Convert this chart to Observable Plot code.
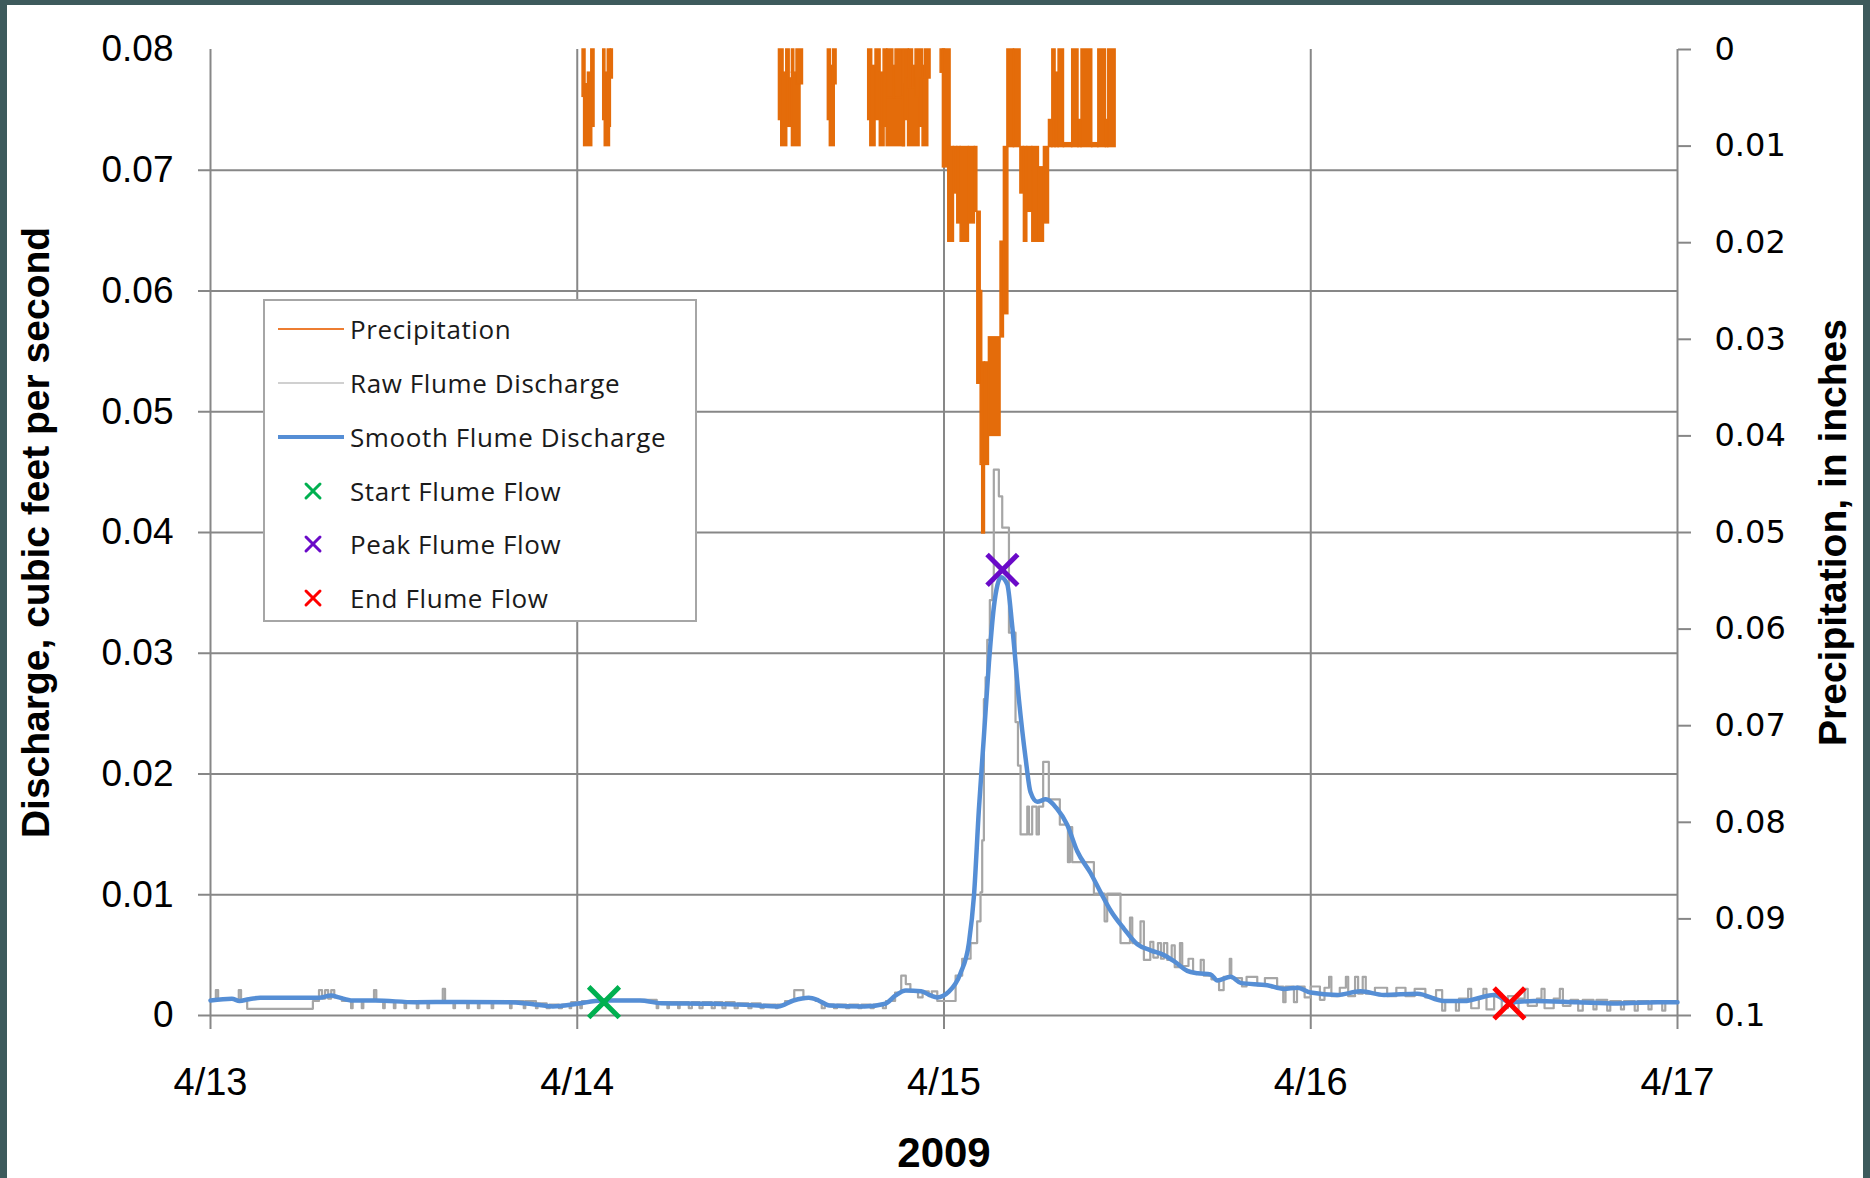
<!DOCTYPE html>
<html>
<head>
<meta charset="utf-8">
<script src="https://cdn.jsdelivr.net/npm/d3@7"></script>
<script src="https://cdn.jsdelivr.net/npm/@observablehq/plot@0.6"></script>
<style>
  html, body { margin: 0; padding: 0; background: #3d5a5c; }
  #wrap { position: relative; width: 1870px; height: 1178px; overflow: hidden; background: #3d5a5c; }
  #panel { position: absolute; left: 7px; top: 5px; width: 1856px; height: 1173px; background: #ffffff; }
  #chart { position: absolute; left: 0; top: 0; }
  #legend { position: absolute; left: 263px; top: 299px; width: 434px; height: 323px; box-sizing: border-box;
            border: 2px solid #a6a6a6; background: #ffffff; font-family: "Open Sans", "Liberation Sans", sans-serif;
            font-size: 26px; color: #1a1a1a; letter-spacing: 0.6px; }
  .row { position: absolute; left: 0; width: 430px; height: 40px; }
  .row svg { position: absolute; left: 13px; top: 0; }
  .row span { position: absolute; left: 85px; top: 0; line-height: 40px; white-space: nowrap; }
</style>
</head>
<body>
<div id="wrap">
  <div id="panel"></div>
  <div id="chart"></div>
  <div id="legend"></div>
</div>
<script>
// ---------------- DATA (hours after 4/13/2009 00:00) ----------------
const dayLabels = ["4/13", "4/14", "4/15", "4/16", "4/17"];
const dayHours = [0, 24, 48, 72, 96];
const flowTicks = [0, 0.01, 0.02, 0.03, 0.04, 0.05, 0.06, 0.07, 0.08];
const precipTicks = [0, 0.01, 0.02, 0.03, 0.04, 0.05, 0.06, 0.07, 0.08, 0.09, 0.1];

// precipitation blocks: [startHour, endHour, lowInches, highInches]
const precipBlocks = [
  [24.35, 24.54, 0, 0.0049], [24.45, 24.98, 0.0036, 0.0100], [24.70, 24.92, 0.0024, 0.0050], [24.92, 25.13, 0, 0.0080],
  [25.70, 25.84, 0, 0.0073], [25.80, 26.14, 0.0024, 0.0100], [26.00, 26.20, 0, 0.0080], [26.20, 26.33, 0, 0.0030],
  [37.20, 37.50, 0, 0.0073], [37.35, 37.74, 0.0024, 0.0100], [37.68, 37.90, 0, 0.0080], [37.90, 38.05, 0.0030, 0.0080],
  [38.05, 38.61, 0.0024, 0.0100], [38.05, 38.20, 0, 0.0024], [38.35, 38.77, 0, 0.0036],
  [40.40, 40.60, 0, 0.0073], [40.53, 40.85, 0.0017, 0.0100], [40.75, 40.97, 0, 0.0036],
  [43.04, 43.30, 0, 0.0073], [43.18, 43.52, 0.0017, 0.0100], [43.52, 43.85, 0, 0.0073], [43.80, 44.11, 0.0024, 0.0100],
  [44.05, 44.29, 0, 0.0080], [44.25, 45.44, 0.0036, 0.0100], [44.29, 44.68, 0, 0.0050], [44.68, 44.83, 0.0017, 0.0050],
  [44.83, 45.31, 0, 0.0050], [45.31, 45.44, 0.0049, 0.0100], [45.40, 45.70, 0, 0.0073], [45.65, 46.40, 0.0030, 0.0100],
  [45.70, 45.97, 0, 0.0040], [45.97, 46.14, 0.0017, 0.0040], [46.14, 46.62, 0, 0.0049], [46.40, 46.62, 0.0030, 0.0080],
  [46.60, 46.97, 0.0030, 0.0100], [46.62, 46.75, 0.0017, 0.0030], [46.75, 47.12, 0, 0.0030],
  [47.78, 48.06, 0, 0.0024], [47.93, 48.43, 0, 0.0122], [48.28, 48.65, 0.0101, 0.0199], [48.65, 48.87, 0.0101, 0.0149],
  [48.87, 49.09, 0.0101, 0.0180], [49.09, 49.63, 0.0101, 0.0199], [49.63, 50.02, 0.0101, 0.0180], [50.02, 50.18, 0.0101, 0.0168],
  [50.18, 50.40, 0.0168, 0.0346], [50.40, 50.50, 0.0250, 0.0430], [50.50, 50.68, 0.0324, 0.0501], [50.68, 50.94, 0.0324, 0.0430],
  [50.94, 51.70, 0.0298, 0.0400], [51.70, 51.92, 0.0199, 0.0298], [51.92, 52.21, 0.0101, 0.0274], [52.15, 52.58, 0, 0.0101],
  [52.58, 53.01, 0, 0.0101], [53.00, 53.23, 0.0101, 0.0149], [53.23, 53.45, 0.0101, 0.0199], [53.45, 53.78, 0.0101, 0.0168],
  [53.78, 54.21, 0.0101, 0.0199], [54.21, 54.54, 0.0122, 0.0199], [54.54, 54.87, 0.0101, 0.0180], [54.87, 55.09, 0.0073, 0.0101],
  [55.09, 55.30, 0, 0.0101], [55.30, 55.50, 0.0024, 0.0101], [55.50, 55.85, 0, 0.0101], [55.85, 56.39, 0.0097, 0.0101],
  [56.39, 56.80, 0, 0.0101], [56.80, 57.00, 0.0073, 0.0101], [57.00, 57.70, 0, 0.0101], [57.70, 58.10, 0.0097, 0.0101],
  [58.10, 58.60, 0, 0.0101], [58.60, 58.75, 0.0073, 0.0101], [58.75, 59.23, 0, 0.0101]
];

// raw flume discharge: [hour, cfs] (step series)
const rawFlow = [
  [0, 0.0012], [0.35, 0.0021], [0.5, 0.0013], [1.85, 0.0021], [2.0, 0.0013], [2.4, 0.00055], [6.7, 0.0012],
  [7.1, 0.0021], [7.3, 0.0014], [7.5, 0.0021], [7.7, 0.0014], [7.9, 0.0021], [8.1, 0.0015], [8.6, 0.0012],
  [9.2, 0.0006], [9.3, 0.0012], [9.9, 0.0006], [10.0, 0.0012], [10.7, 0.0021], [10.85, 0.0012], [11.3, 0.0006],
  [11.4, 0.0012], [12.0, 0.0006], [12.1, 0.0012], [12.7, 0.0006], [12.8, 0.0012], [13.5, 0.0006], [13.6, 0.0012],
  [14.2, 0.0006], [14.3, 0.0012], [15.2, 0.0022], [15.35, 0.0012], [15.9, 0.0006], [16.0, 0.0012], [16.8, 0.0006],
  [16.9, 0.0012], [17.5, 0.0006], [17.6, 0.0012], [18.4, 0.0006], [18.5, 0.0012], [19.6, 0.0006], [19.7, 0.0012],
  [20.5, 0.0006], [20.6, 0.0012], [21.3, 0.0006], [21.4, 0.0010], [22.0, 0.0006], [22.2, 0.0009], [22.8, 0.0006],
  [23.0, 0.0009], [23.5, 0.0006], [23.6, 0.0011], [24.2, 0.0006], [24.3, 0.0012], [26.0, 0.0013], [29.2, 0.0006],
  [29.3, 0.0011], [29.9, 0.0006], [30.0, 0.0011], [30.6, 0.0006], [30.7, 0.0011], [31.3, 0.0006], [31.5, 0.0011],
  [32.0, 0.0006], [32.2, 0.0011], [32.8, 0.0006], [33.0, 0.0011], [33.5, 0.0006], [33.7, 0.0011], [34.3, 0.0006],
  [34.5, 0.0010], [35.2, 0.0006], [35.4, 0.0010], [36.0, 0.0006], [36.2, 0.0009], [37.0, 0.0006], [37.1, 0.0009],
  [37.6, 0.0012], [38.2, 0.0021], [38.8, 0.0014], [39.6, 0.0012], [40.0, 0.0006], [40.2, 0.0009], [40.8, 0.0006],
  [41.0, 0.0009], [41.6, 0.0006], [41.8, 0.0009], [42.4, 0.0006], [42.6, 0.0009], [43.2, 0.0006], [43.4, 0.0009],
  [44.0, 0.0006], [44.2, 0.0012], [44.8, 0.0019], [45.2, 0.0033], [45.5, 0.0026], [45.8, 0.0020], [46.3, 0.0015],
  [46.6, 0.0020], [47.0, 0.0016], [47.2, 0.0020], [47.56, 0.0012], [48.76, 0.0033], [49.19, 0.0047], [49.74, 0.0060],
  [50.17, 0.0078], [50.39, 0.0102], [50.5, 0.0145], [50.61, 0.0262], [50.72, 0.0280], [50.83, 0.0311], [51.0, 0.0344],
  [51.16, 0.0360], [51.26, 0.0452], [51.59, 0.0430], [51.81, 0.0404], [52.25, 0.0317], [52.68, 0.0243], [52.84, 0.0207],
  [53.01, 0.0150], [53.45, 0.0173], [53.56, 0.0150], [53.77, 0.0173], [54.06, 0.0150], [54.21, 0.0173], [54.49, 0.0210],
  [54.86, 0.0179], [55.58, 0.0158], [56.11, 0.0127], [56.24, 0.0156], [56.39, 0.0127], [57.81, 0.0101], [58.51, 0.0078],
  [58.68, 0.0101], [59.55, 0.0060], [60.17, 0.0081], [60.32, 0.0060], [60.86, 0.0078], [61.08, 0.0046],
  [61.5, 0.0061], [61.7, 0.0048], [62.0, 0.0060], [62.2, 0.0047], [62.39, 0.0060], [62.61, 0.0046], [62.9, 0.0058],
  [63.1, 0.0040], [63.44, 0.0060], [63.59, 0.0041], [64.0, 0.0047], [64.3, 0.0035], [64.8, 0.0046], [65.0, 0.0033],
  [65.5, 0.0030], [66.0, 0.0021], [66.3, 0.0032], [66.7, 0.0047], [66.8, 0.0031], [67.5, 0.0024], [67.8, 0.0032],
  [68.5, 0.0025], [69.0, 0.0031], [69.8, 0.0024], [70.2, 0.0011], [70.35, 0.0024], [70.9, 0.0011], [71.1, 0.0024],
  [71.6, 0.0015], [72.0, 0.0024], [72.6, 0.0013], [72.9, 0.0023], [73.2, 0.0032], [73.35, 0.0016], [73.9, 0.0023],
  [74.3, 0.0032], [74.45, 0.0016], [74.9, 0.0032], [75.1, 0.0018], [75.4, 0.0032], [75.6, 0.0018], [76.2, 0.0023],
  [77.0, 0.0016], [77.6, 0.0023], [78.2, 0.0016], [78.8, 0.0022], [79.5, 0.0015], [80.2, 0.0021], [80.6, 0.0004],
  [80.8, 0.0012], [81.5, 0.0004], [81.7, 0.0014], [82.3, 0.0022], [82.5, 0.0006], [83.0, 0.0015], [83.3, 0.0022],
  [83.5, 0.0005], [84.0, 0.0018], [84.5, 0.0006], [84.9, 0.0016], [85.3, 0.0005], [85.6, 0.0014], [86.0, 0.0022],
  [86.2, 0.0008], [86.8, 0.0014], [87.1, 0.0022], [87.3, 0.0006], [87.9, 0.0014], [88.3, 0.0022], [88.5, 0.0008],
  [89.0, 0.0013], [89.5, 0.0004], [89.8, 0.0013], [90.5, 0.0005], [90.7, 0.0013], [91.4, 0.0004], [91.6, 0.0012],
  [92.3, 0.0005], [92.5, 0.0012], [93.2, 0.0004], [93.4, 0.0012], [94.1, 0.0005], [94.3, 0.0012], [95.0, 0.0004],
  [95.2, 0.0012], [96.0, 0.0012]
];

// smoothed flume discharge: [hour, cfs]
const smoothFlow = [
  [0, 0.00124], [1.4, 0.00138], [1.9, 0.0012], [2.5, 0.00135], [3.25, 0.00146], [7.1, 0.00146], [7.9, 0.00166],
  [8.4, 0.0015], [9.3, 0.00124], [10.8, 0.00124], [13.4, 0.0011], [16.1, 0.00112], [19.5, 0.0011], [21.0, 0.00095],
  [22.4, 0.00075], [24.0, 0.00097], [25.6, 0.00124], [28.1, 0.00124], [29.5, 0.00102], [32.8, 0.00097], [35.0, 0.00088],
  [37.15, 0.00075], [38.15, 0.00124], [39.15, 0.00146], [39.8, 0.00124], [40.5, 0.00083], [42.8, 0.00075],
  [44.16, 0.00097], [44.83, 0.00166], [45.5, 0.00207], [46.5, 0.0020], [47.12, 0.00166], [47.56, 0.0015],
  [48.32, 0.00197], [49.08, 0.0035], [49.63, 0.006], [49.96, 0.0099], [50.28, 0.017], [50.61, 0.0231], [50.94, 0.0292],
  [51.26, 0.0338], [51.74, 0.0363], [52.14, 0.0357], [52.46, 0.0323], [52.9, 0.0262], [53.34, 0.0213], [53.66, 0.0185],
  [54.1, 0.0177], [54.65, 0.0179], [55.41, 0.0171], [56.06, 0.0158], [56.72, 0.0136], [57.59, 0.0118], [58.25, 0.0102],
  [58.9, 0.0087], [59.77, 0.0072], [60.65, 0.0059], [61.52, 0.0054], [62.39, 0.005], [63.05, 0.0045], [63.92, 0.0037],
  [64.6, 0.0035], [65.45, 0.0034], [65.88, 0.0029], [66.76, 0.0032], [67.41, 0.0027], [69.16, 0.0025], [70.25, 0.0022],
  [71.12, 0.0023], [71.99, 0.0019], [73.74, 0.0017], [75.26, 0.0020], [76.79, 0.0017], [78.97, 0.0018], [80.72, 0.0012],
  [82.03, 0.0012], [83.99, 0.0017], [85.08, 0.0011], [86.61, 0.0012], [89.44, 0.0011], [92.06, 0.0010], [94.68, 0.0011],
  [96.0, 0.0011]
];

const startFlow = [[25.75, 0.0011]];
const peakFlow = [[51.82, 0.0369]];
const endFlow = [[85.0, 0.0010]];

// ---------------- CHART ----------------
const T0 = Date.UTC(2009, 3, 13);
const toDate = h => new Date(T0 + h * 3600e3);
const FMAX = 0.08, PMAX = 0.1;
const pToY = p => FMAX - p * FMAX / PMAX;          // secondary (inverted) precipitation axis
const yToP = y => Math.round((FMAX - y) * PMAX / FMAX * 100) / 100;

const ORANGE = "#e46c0a", GRAY = "#a6a6a6", BLUE = "#558ed5", GRID = "#878787";
const days = dayHours.map(toDate);
const SANS = "'Liberation Sans', Arial, sans-serif";

const chart = Plot.plot({
  width: 1870,
  height: 1178,
  marginLeft: 210,
  marginRight: 193,
  marginTop: 49,
  marginBottom: 163,
  style: { background: "transparent", color: "black", fontFamily: SANS },
  x: { type: "utc", domain: [days[0], days[days.length - 1]] },
  y: { domain: [0, FMAX] },
  marks: [
    Plot.ruleY(flowTicks.filter(d => d < FMAX), { stroke: GRID, strokeWidth: 2, insetLeft: -12 }),
    Plot.ruleX(days, { stroke: GRID, strokeWidth: 2, insetBottom: -14 }),
    Plot.rect(precipBlocks, {
      x1: d => toDate(d[0]), x2: d => toDate(d[1]),
      y1: d => pToY(d[2]), y2: d => pToY(d[3]),
      fill: ORANGE, stroke: ORANGE, strokeWidth: 1.5
    }),
    Plot.line(rawFlow, { x: d => toDate(d[0]), y: d => d[1], curve: "step-after", stroke: GRAY, strokeWidth: 2.2 }),
    Plot.line(smoothFlow, { x: d => toDate(d[0]), y: d => d[1], curve: "monotone-x", stroke: BLUE, strokeWidth: 4.5 }),
    Plot.dot(startFlow, { x: d => toDate(d[0]), y: d => d[1], symbol: "times", r: 14, stroke: "#00b050", strokeWidth: 5 }),
    Plot.dot(peakFlow, { x: d => toDate(d[0]), y: d => d[1], symbol: "times", r: 14, stroke: "#6a0ac8", strokeWidth: 5 }),
    Plot.dot(endFlow, { x: d => toDate(d[0]), y: d => d[1], symbol: "times", r: 14, stroke: "#ff0000", strokeWidth: 5 }),
    Plot.axisY(flowTicks, {
      anchor: "left", tickSize: 0, tickPadding: 37, label: null, fill: "black",
      tickFormat: d => d === 0 ? "0" : d.toFixed(2),
      fontSize: 37, fontFamily: SANS
    }),
    Plot.axisY(precipTicks.map(pToY), {
      anchor: "right", tickSize: 13, tickPadding: 24, label: null, stroke: GRID, strokeWidth: 2, fill: "black",
      tickFormat: y => String(yToP(y)),
      fontSize: 32, fontFamily: "'DejaVu Sans', Verdana, sans-serif"
    }),
    Plot.axisX(days, {
      anchor: "bottom", tickSize: 0, tickPadding: 53, label: null, fill: "black",
      tickFormat: d => dayLabels[dayHours.indexOf(Math.round((d - T0) / 3600e3))],
      fontSize: 38, fontFamily: SANS
    }),
    Plot.text(["Discharge, cubic feet per second"], {
      frameAnchor: "left", textAnchor: "middle", lineAnchor: "middle", dx: -174, rotate: -90,
      fontSize: 39, fontWeight: "bold", fill: "black", fontFamily: SANS
    }),
    Plot.text(["Precipitation, in inches"], {
      frameAnchor: "right", textAnchor: "middle", lineAnchor: "middle", dx: 156, rotate: -90,
      fontSize: 39, fontWeight: "bold", fill: "black", fontFamily: SANS
    }),
    Plot.text(["2009"], {
      frameAnchor: "bottom", textAnchor: "middle", lineAnchor: "middle", dy: 138,
      fontSize: 42, fontWeight: "bold", fill: "black", fontFamily: SANS
    })
  ]
});
document.getElementById("chart").appendChild(chart);

// ---------------- LEGEND ----------------
const legendItems = [
  { label: "Precipitation", kind: "line", color: "#ed7d31", width: 2 },
  { label: "Raw Flume Discharge", kind: "line", color: "#d0d0d0", width: 2 },
  { label: "Smooth Flume Discharge", kind: "line", color: BLUE, width: 4 },
  { label: "Start Flume Flow", kind: "x", color: "#00b050" },
  { label: "Peak Flume Flow", kind: "x", color: "#6a0ac8" },
  { label: "End Flume Flow", kind: "x", color: "#ff0000" }
];
const legendRowTops = [8, 62, 116, 170, 223, 277];
const legend = d3.select("#legend");
legendItems.forEach((item, i) => {
  const row = legend.append("div").attr("class", "row").style("top", legendRowTops[i] + "px");
  const svg = row.append("svg").attr("width", 68).attr("height", 40);
  if (item.kind === "line") {
    svg.append("line").attr("x1", 0).attr("x2", 66).attr("y1", 20).attr("y2", 20)
      .attr("stroke", item.color).attr("stroke-width", item.width);
  } else {
    const g = svg.append("g").attr("stroke", item.color).attr("stroke-width", 3).attr("stroke-linecap", "round");
    g.append("line").attr("x1", 28).attr("y1", 13).attr("x2", 42).attr("y2", 27);
    g.append("line").attr("x1", 42).attr("y1", 13).attr("x2", 28).attr("y2", 27);
  }
  row.append("span").text(item.label);
});
</script>
</body>
</html>
